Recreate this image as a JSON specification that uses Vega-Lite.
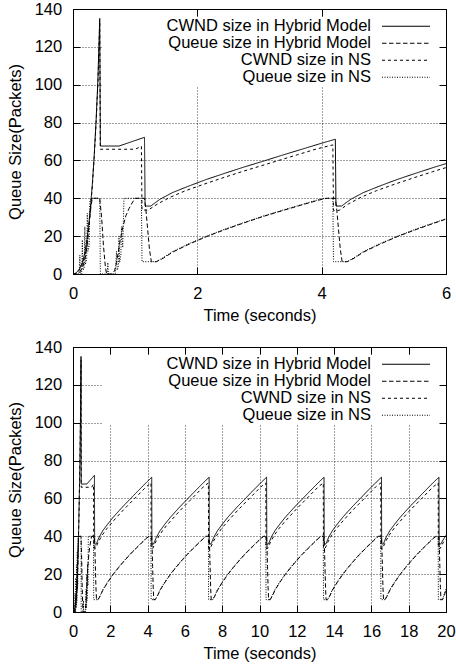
{
"$schema": "https://vega.github.io/schema/vega-lite/v6.json",
"padding": {"left": 7, "top": 1, "right": 0, "bottom": 0},
"spacing": 15,
"datasets": {"q": [
{"s":"a","t":0,"v":0},{"s":"a","t":0.05,"v":0.5},{"s":"a","t":0.1,"v":2.5},{"s":"a","t":0.15,"v":6},{"s":"a","t":0.19,"v":11},{"s":"a","t":0.22,"v":17},{"s":"a","t":0.25,"v":25},{"s":"a","t":0.28,"v":35},{"s":"a","t":0.31,"v":47},{"s":"a","t":0.34,"v":62},{"s":"a","t":0.37,"v":80},{"s":"a","t":0.4,"v":102},{"s":"a","t":0.43,"v":135},{"s":"a","t":0.44,"v":67.6},{"s":"a","t":0.74,"v":67.6},{"s":"a","t":1.15,"v":72.2},{"s":"a","t":1.16,"v":35.9},
{"s":"a","t":1.25,"v":35.9},{"s":"a","t":1.4,"v":39.5},{"s":"a","t":1.6,"v":43},{"s":"a","t":1.85,"v":46.3},{"s":"a","t":2.15,"v":50},{"s":"a","t":2.45,"v":53.3},{"s":"a","t":2.75,"v":56.5},{"s":"a","t":3.05,"v":59.5},{"s":"a","t":3.35,"v":62.6},{"s":"a","t":3.65,"v":65.6},{"s":"a","t":3.95,"v":68.6},{"s":"a","t":4.22,"v":71.2},{"s":"a","t":4.23,"v":35.9},
{"s":"a","t":4.32,"v":35.9},{"s":"a","t":4.47,"v":39.5},{"s":"a","t":4.67,"v":43},{"s":"a","t":4.92,"v":46.3},{"s":"a","t":5.22,"v":50},{"s":"a","t":5.52,"v":53.3},{"s":"a","t":5.82,"v":56.5},{"s":"a","t":6.12,"v":59.5},{"s":"a","t":6.42,"v":62.6},{"s":"a","t":6.72,"v":65.6},{"s":"a","t":7.02,"v":68.6},{"s":"a","t":7.3,"v":71.2},{"s":"a","t":7.31,"v":35.9},
{"s":"a","t":7.4,"v":35.9},{"s":"a","t":7.55,"v":39.5},{"s":"a","t":7.75,"v":43},{"s":"a","t":8.0,"v":46.3},{"s":"a","t":8.3,"v":50},{"s":"a","t":8.6,"v":53.3},{"s":"a","t":8.9,"v":56.5},{"s":"a","t":9.2,"v":59.5},{"s":"a","t":9.5,"v":62.6},{"s":"a","t":9.8,"v":65.6},{"s":"a","t":10.1,"v":68.6},{"s":"a","t":10.38,"v":71.2},{"s":"a","t":10.39,"v":35.9},
{"s":"a","t":10.48,"v":35.9},{"s":"a","t":10.63,"v":39.5},{"s":"a","t":10.83,"v":43},{"s":"a","t":11.08,"v":46.3},{"s":"a","t":11.38,"v":50},{"s":"a","t":11.68,"v":53.3},{"s":"a","t":11.98,"v":56.5},{"s":"a","t":12.28,"v":59.5},{"s":"a","t":12.58,"v":62.6},{"s":"a","t":12.88,"v":65.6},{"s":"a","t":13.18,"v":68.6},{"s":"a","t":13.46,"v":71.2},{"s":"a","t":13.47,"v":35.9},
{"s":"a","t":13.56,"v":35.9},{"s":"a","t":13.71,"v":39.5},{"s":"a","t":13.91,"v":43},{"s":"a","t":14.16,"v":46.3},{"s":"a","t":14.46,"v":50},{"s":"a","t":14.76,"v":53.3},{"s":"a","t":15.06,"v":56.5},{"s":"a","t":15.36,"v":59.5},{"s":"a","t":15.66,"v":62.6},{"s":"a","t":15.96,"v":65.6},{"s":"a","t":16.26,"v":68.6},{"s":"a","t":16.54,"v":71.2},{"s":"a","t":16.55,"v":35.9},
{"s":"a","t":16.64,"v":35.9},{"s":"a","t":16.79,"v":39.5},{"s":"a","t":16.99,"v":43},{"s":"a","t":17.24,"v":46.3},{"s":"a","t":17.54,"v":50},{"s":"a","t":17.84,"v":53.3},{"s":"a","t":18.14,"v":56.5},{"s":"a","t":18.44,"v":59.5},{"s":"a","t":18.74,"v":62.6},{"s":"a","t":19.04,"v":65.6},{"s":"a","t":19.34,"v":68.6},{"s":"a","t":19.62,"v":71.2},{"s":"a","t":19.63,"v":35.9},
{"s":"a","t":19.72,"v":35.9},{"s":"a","t":19.87,"v":38.5},{"s":"a","t":20,"v":40.5},
{"s":"b","t":0,"v":0},{"s":"b","t":0.08,"v":0},{"s":"b","t":0.12,"v":1.5},{"s":"b","t":0.16,"v":4},{"s":"b","t":0.2,"v":9},{"s":"b","t":0.23,"v":16},{"s":"b","t":0.26,"v":26},{"s":"b","t":0.29,"v":36},{"s":"b","t":0.31,"v":40},{"s":"b","t":0.43,"v":40},{"s":"b","t":0.46,"v":30},{"s":"b","t":0.49,"v":15},{"s":"b","t":0.52,"v":4},{"s":"b","t":0.54,"v":0},{"s":"b","t":0.64,"v":0},{"s":"b","t":0.67,"v":2},{"s":"b","t":0.7,"v":6},{"s":"b","t":0.73,"v":12},{"s":"b","t":0.76,"v":18},{"s":"b","t":0.8,"v":24.6},{"s":"b","t":0.85,"v":30.7},{"s":"b","t":0.9,"v":34.5},{"s":"b","t":0.95,"v":37.5},{"s":"b","t":1.0,"v":40},{"s":"b","t":1.15,"v":40},{"s":"b","t":1.17,"v":35},{"s":"b","t":1.2,"v":24},{"s":"b","t":1.23,"v":13},{"s":"b","t":1.26,"v":6.5},
{"s":"b","t":1.34,"v":6.5},{"s":"b","t":1.45,"v":8.3},{"s":"b","t":1.6,"v":11.5},{"s":"b","t":1.85,"v":15.5},{"s":"b","t":2.15,"v":19.8},{"s":"b","t":2.45,"v":23.5},{"s":"b","t":2.75,"v":27},{"s":"b","t":3.05,"v":30.3},{"s":"b","t":3.35,"v":33.3},{"s":"b","t":3.65,"v":36.2},{"s":"b","t":3.95,"v":39},{"s":"b","t":4.08,"v":40},{"s":"b","t":4.22,"v":40},{"s":"b","t":4.24,"v":35},{"s":"b","t":4.27,"v":24},{"s":"b","t":4.3,"v":13},{"s":"b","t":4.33,"v":6.5},
{"s":"b","t":4.41,"v":6.5},{"s":"b","t":4.52,"v":8.3},{"s":"b","t":4.67,"v":11.5},{"s":"b","t":4.92,"v":15.5},{"s":"b","t":5.22,"v":19.8},{"s":"b","t":5.52,"v":23.5},{"s":"b","t":5.82,"v":27},{"s":"b","t":6.12,"v":30.3},{"s":"b","t":6.42,"v":33.3},{"s":"b","t":6.72,"v":36.2},{"s":"b","t":7.02,"v":39},{"s":"b","t":7.15,"v":40},{"s":"b","t":7.3,"v":40},{"s":"b","t":7.32,"v":35},{"s":"b","t":7.35,"v":24},{"s":"b","t":7.38,"v":13},{"s":"b","t":7.41,"v":6.5},
{"s":"b","t":7.49,"v":6.5},{"s":"b","t":7.6,"v":8.3},{"s":"b","t":7.75,"v":11.5},{"s":"b","t":8.0,"v":15.5},{"s":"b","t":8.3,"v":19.8},{"s":"b","t":8.6,"v":23.5},{"s":"b","t":8.9,"v":27},{"s":"b","t":9.2,"v":30.3},{"s":"b","t":9.5,"v":33.3},{"s":"b","t":9.8,"v":36.2},{"s":"b","t":10.1,"v":39},{"s":"b","t":10.23,"v":40},{"s":"b","t":10.38,"v":40},{"s":"b","t":10.4,"v":35},{"s":"b","t":10.43,"v":24},{"s":"b","t":10.46,"v":13},{"s":"b","t":10.49,"v":6.5},
{"s":"b","t":10.57,"v":6.5},{"s":"b","t":10.68,"v":8.3},{"s":"b","t":10.83,"v":11.5},{"s":"b","t":11.08,"v":15.5},{"s":"b","t":11.38,"v":19.8},{"s":"b","t":11.68,"v":23.5},{"s":"b","t":11.98,"v":27},{"s":"b","t":12.28,"v":30.3},{"s":"b","t":12.58,"v":33.3},{"s":"b","t":12.88,"v":36.2},{"s":"b","t":13.18,"v":39},{"s":"b","t":13.31,"v":40},{"s":"b","t":13.46,"v":40},{"s":"b","t":13.48,"v":35},{"s":"b","t":13.51,"v":24},{"s":"b","t":13.54,"v":13},{"s":"b","t":13.57,"v":6.5},
{"s":"b","t":13.65,"v":6.5},{"s":"b","t":13.76,"v":8.3},{"s":"b","t":13.91,"v":11.5},{"s":"b","t":14.16,"v":15.5},{"s":"b","t":14.46,"v":19.8},{"s":"b","t":14.76,"v":23.5},{"s":"b","t":15.06,"v":27},{"s":"b","t":15.36,"v":30.3},{"s":"b","t":15.66,"v":33.3},{"s":"b","t":15.96,"v":36.2},{"s":"b","t":16.26,"v":39},{"s":"b","t":16.39,"v":40},{"s":"b","t":16.54,"v":40},{"s":"b","t":16.56,"v":35},{"s":"b","t":16.59,"v":24},{"s":"b","t":16.62,"v":13},{"s":"b","t":16.65,"v":6.5},
{"s":"b","t":16.73,"v":6.5},{"s":"b","t":16.84,"v":8.3},{"s":"b","t":16.99,"v":11.5},{"s":"b","t":17.24,"v":15.5},{"s":"b","t":17.54,"v":19.8},{"s":"b","t":17.84,"v":23.5},{"s":"b","t":18.14,"v":27},{"s":"b","t":18.44,"v":30.3},{"s":"b","t":18.74,"v":33.3},{"s":"b","t":19.04,"v":36.2},{"s":"b","t":19.34,"v":39},{"s":"b","t":19.47,"v":40},{"s":"b","t":19.62,"v":40},{"s":"b","t":19.64,"v":35},{"s":"b","t":19.67,"v":24},{"s":"b","t":19.7,"v":13},{"s":"b","t":19.73,"v":6.5},
{"s":"b","t":19.81,"v":6.5},{"s":"b","t":19.92,"v":9},{"s":"b","t":20,"v":12},
{"s":"c","t":0,"v":0},{"s":"c","t":0.05,"v":0.4},{"s":"c","t":0.1,"v":2},{"s":"c","t":0.15,"v":5},{"s":"c","t":0.19,"v":10},{"s":"c","t":0.22,"v":16},{"s":"c","t":0.25,"v":24},{"s":"c","t":0.28,"v":34},{"s":"c","t":0.31,"v":46},{"s":"c","t":0.34,"v":61},{"s":"c","t":0.37,"v":79},{"s":"c","t":0.4,"v":100},{"s":"c","t":0.43,"v":133},{"s":"c","t":0.44,"v":65.9},{"s":"c","t":1.0,"v":65.9},{"s":"c","t":1.1,"v":67.5},{"s":"c","t":1.11,"v":33.8},
{"s":"c","t":1.21,"v":33.8},{"s":"c","t":1.36,"v":37},{"s":"c","t":1.56,"v":40.5},{"s":"c","t":1.81,"v":44},{"s":"c","t":2.11,"v":47.5},{"s":"c","t":2.41,"v":50.8},{"s":"c","t":2.71,"v":54},{"s":"c","t":3.01,"v":57},{"s":"c","t":3.31,"v":60},{"s":"c","t":3.61,"v":63},{"s":"c","t":3.91,"v":66},{"s":"c","t":4.18,"v":68.2},{"s":"c","t":4.19,"v":33.6},
{"s":"c","t":4.28,"v":33.6},{"s":"c","t":4.43,"v":37},{"s":"c","t":4.63,"v":40.5},{"s":"c","t":4.88,"v":44},{"s":"c","t":5.18,"v":47.5},{"s":"c","t":5.48,"v":50.8},{"s":"c","t":5.78,"v":54},{"s":"c","t":6.08,"v":57},{"s":"c","t":6.38,"v":60},{"s":"c","t":6.68,"v":63},{"s":"c","t":6.98,"v":66},{"s":"c","t":7.26,"v":68.2},{"s":"c","t":7.27,"v":33.6},
{"s":"c","t":7.36,"v":33.6},{"s":"c","t":7.51,"v":37},{"s":"c","t":7.71,"v":40.5},{"s":"c","t":7.96,"v":44},{"s":"c","t":8.26,"v":47.5},{"s":"c","t":8.56,"v":50.8},{"s":"c","t":8.86,"v":54},{"s":"c","t":9.16,"v":57},{"s":"c","t":9.46,"v":60},{"s":"c","t":9.76,"v":63},{"s":"c","t":10.06,"v":66},{"s":"c","t":10.34,"v":68.2},{"s":"c","t":10.35,"v":33.6},
{"s":"c","t":10.44,"v":33.6},{"s":"c","t":10.59,"v":37},{"s":"c","t":10.79,"v":40.5},{"s":"c","t":11.04,"v":44},{"s":"c","t":11.34,"v":47.5},{"s":"c","t":11.64,"v":50.8},{"s":"c","t":11.94,"v":54},{"s":"c","t":12.24,"v":57},{"s":"c","t":12.54,"v":60},{"s":"c","t":12.84,"v":63},{"s":"c","t":13.14,"v":66},{"s":"c","t":13.42,"v":68.2},{"s":"c","t":13.43,"v":33.6},
{"s":"c","t":13.52,"v":33.6},{"s":"c","t":13.67,"v":37},{"s":"c","t":13.87,"v":40.5},{"s":"c","t":14.12,"v":44},{"s":"c","t":14.42,"v":47.5},{"s":"c","t":14.72,"v":50.8},{"s":"c","t":15.02,"v":54},{"s":"c","t":15.32,"v":57},{"s":"c","t":15.62,"v":60},{"s":"c","t":15.92,"v":63},{"s":"c","t":16.22,"v":66},{"s":"c","t":16.5,"v":68.2},{"s":"c","t":16.51,"v":33.6},
{"s":"c","t":16.6,"v":33.6},{"s":"c","t":16.75,"v":37},{"s":"c","t":16.95,"v":40.5},{"s":"c","t":17.2,"v":44},{"s":"c","t":17.5,"v":47.5},{"s":"c","t":17.8,"v":50.8},{"s":"c","t":18.1,"v":54},{"s":"c","t":18.4,"v":57},{"s":"c","t":18.7,"v":60},{"s":"c","t":19.0,"v":63},{"s":"c","t":19.3,"v":66},{"s":"c","t":19.58,"v":68.2},{"s":"c","t":19.59,"v":33.6},
{"s":"c","t":19.69,"v":33.6},{"s":"c","t":19.84,"v":36.5},{"s":"c","t":20,"v":38.5},
{"s":"d","t":0,"v":0},{"s":"d","t":0.1,"v":0},{"s":"d","t":0.11,"v":10},{"s":"d","t":0.12,"v":0},{"s":"d","t":0.14,"v":0},{"s":"d","t":0.15,"v":18},{"s":"d","t":0.16,"v":2},{"s":"d","t":0.18,"v":3},{"s":"d","t":0.19,"v":25},{"s":"d","t":0.2,"v":5},{"s":"d","t":0.22,"v":8},{"s":"d","t":0.23,"v":32},{"s":"d","t":0.24,"v":12},{"s":"d","t":0.26,"v":15},{"s":"d","t":0.27,"v":38},{"s":"d","t":0.29,"v":40},{"s":"d","t":0.43,"v":40},{"s":"d","t":0.44,"v":0},{"s":"d","t":0.55,"v":0},{"s":"d","t":0.56,"v":6},{"s":"d","t":0.57,"v":0},{"s":"d","t":0.68,"v":0},{"s":"d","t":0.7,"v":12},{"s":"d","t":0.71,"v":2},{"s":"d","t":0.73,"v":4},{"s":"d","t":0.74,"v":20},{"s":"d","t":0.75,"v":6},{"s":"d","t":0.77,"v":10},{"s":"d","t":0.78,"v":25},{"s":"d","t":0.8,"v":14},{"s":"d","t":0.82,"v":40},{"s":"d","t":1.1,"v":40},{"s":"d","t":1.11,"v":6.5},{"s":"d","t":1.34,"v":6.5},
{"s":"d","t":1.45,"v":8.6},{"s":"d","t":1.6,"v":11.8},{"s":"d","t":1.85,"v":15.8},{"s":"d","t":2.15,"v":20},{"s":"d","t":2.45,"v":23.8},{"s":"d","t":2.75,"v":27.2},{"s":"d","t":3.05,"v":30.5},{"s":"d","t":3.35,"v":33.5},{"s":"d","t":3.65,"v":36.4},{"s":"d","t":3.95,"v":39.3},{"s":"d","t":4.05,"v":40},{"s":"d","t":4.18,"v":40},{"s":"d","t":4.19,"v":6.5},{"s":"d","t":4.41,"v":6.5},
{"s":"d","t":4.52,"v":8.6},{"s":"d","t":4.67,"v":11.8},{"s":"d","t":4.92,"v":15.8},{"s":"d","t":5.22,"v":20},{"s":"d","t":5.52,"v":23.8},{"s":"d","t":5.82,"v":27.2},{"s":"d","t":6.12,"v":30.5},{"s":"d","t":6.42,"v":33.5},{"s":"d","t":6.72,"v":36.4},{"s":"d","t":7.02,"v":39.3},{"s":"d","t":7.12,"v":40},{"s":"d","t":7.26,"v":40},{"s":"d","t":7.27,"v":6.5},{"s":"d","t":7.49,"v":6.5},
{"s":"d","t":7.6,"v":8.6},{"s":"d","t":7.75,"v":11.8},{"s":"d","t":8.0,"v":15.8},{"s":"d","t":8.3,"v":20},{"s":"d","t":8.6,"v":23.8},{"s":"d","t":8.9,"v":27.2},{"s":"d","t":9.2,"v":30.5},{"s":"d","t":9.5,"v":33.5},{"s":"d","t":9.8,"v":36.4},{"s":"d","t":10.1,"v":39.3},{"s":"d","t":10.2,"v":40},{"s":"d","t":10.34,"v":40},{"s":"d","t":10.35,"v":6.5},{"s":"d","t":10.57,"v":6.5},
{"s":"d","t":10.68,"v":8.6},{"s":"d","t":10.83,"v":11.8},{"s":"d","t":11.08,"v":15.8},{"s":"d","t":11.38,"v":20},{"s":"d","t":11.68,"v":23.8},{"s":"d","t":11.98,"v":27.2},{"s":"d","t":12.28,"v":30.5},{"s":"d","t":12.58,"v":33.5},{"s":"d","t":12.88,"v":36.4},{"s":"d","t":13.18,"v":39.3},{"s":"d","t":13.28,"v":40},{"s":"d","t":13.42,"v":40},{"s":"d","t":13.43,"v":6.5},{"s":"d","t":13.65,"v":6.5},
{"s":"d","t":13.76,"v":8.6},{"s":"d","t":13.91,"v":11.8},{"s":"d","t":14.16,"v":15.8},{"s":"d","t":14.46,"v":20},{"s":"d","t":14.76,"v":23.8},{"s":"d","t":15.06,"v":27.2},{"s":"d","t":15.36,"v":30.5},{"s":"d","t":15.66,"v":33.5},{"s":"d","t":15.96,"v":36.4},{"s":"d","t":16.26,"v":39.3},{"s":"d","t":16.36,"v":40},{"s":"d","t":16.5,"v":40},{"s":"d","t":16.51,"v":6.5},{"s":"d","t":16.73,"v":6.5},
{"s":"d","t":16.84,"v":8.6},{"s":"d","t":16.99,"v":11.8},{"s":"d","t":17.24,"v":15.8},{"s":"d","t":17.54,"v":20},{"s":"d","t":17.84,"v":23.8},{"s":"d","t":18.14,"v":27.2},{"s":"d","t":18.44,"v":30.5},{"s":"d","t":18.74,"v":33.5},{"s":"d","t":19.04,"v":36.4},{"s":"d","t":19.34,"v":39.3},{"s":"d","t":19.44,"v":40},{"s":"d","t":19.58,"v":40},{"s":"d","t":19.59,"v":6.5},{"s":"d","t":19.81,"v":6.5},{"s":"d","t":20,"v":12.3}
]},
"resolve": {"scale": {"strokeDash": "independent"}, "legend": {"strokeDash": "independent"}},
"config": {
  "font": "Liberation Sans",
  "view": {"stroke": null},
  "axis": {"labelFont": "Liberation Sans", "labelFontSize": 16.5, "labelColor": "#000", "titleFont": "Liberation Sans", "titleFontSize": 16.5, "titleFontWeight": "normal", "titleColor": "#000", "domainColor": "#000", "domainWidth": 1, "tickColor": "#000", "tickSize": -7, "tickWidth": 1, "gridColor": "#000", "gridDash": [1, 2], "gridOpacity": 0.75, "gridWidth": 1, "labelFlush": false, "labelOverlap": false},
  "axisX": {"labelPadding": 18.5, "titlePadding": 5},
  "axisY": {"labelPadding": 18.3, "titlePadding": 11},
  "legend": {"orient": "none", "legendX": 30, "legendY": 9, "direction": "vertical", "fillColor": "white", "padding": 0, "symbolType": "M -4.8 0 L 4.8 0 M 8.4 0", "symbolSize": 100, "symbolOffset": 294.75, "symbolStrokeWidth": 1, "symbolStrokeColor": "black", "labelAlign": "right", "labelOffset": -43.25, "labelFont": "Liberation Sans", "labelFontSize": 16.5, "labelColor": "black", "labelLimit": 0, "rowPadding": 0}
},
"vconcat": [
{
  "width": 373, "height": 265,
  "resolve": {"axis": {"x": "independent", "y": "independent"}},
  "layer": [
    {"data": {"name": "q"},
     "mark": {"type": "line", "color": "black", "strokeWidth": 1, "clip": true},
     "encoding": {
       "x": {"field": "t", "type": "quantitative", "scale": {"domain": [0, 6], "nice": false, "zero": false}, "axis": {"orient": "bottom", "values": [0, 2, 4, 6], "title": "Time (seconds)", "grid": true}},
       "y": {"field": "v", "type": "quantitative", "scale": {"domain": [0, 140], "nice": false}, "axis": {"orient": "left", "values": [0, 20, 40, 60, 80, 100, 120, 140], "title": "Queue Size(Packets)", "grid": true}},
       "strokeDash": {"field": "s", "type": "nominal", "scale": {"domain": ["a", "b", "c", "d"], "range": [[1, 0], [4.5, 2.5], [3, 3], [1, 1.5]]},
         "legend": {"title": null, "symbolType": "M -4.8 0 L 4.8 0 M 8.4 0",
           "labelExpr": "datum.label == 'a' ? 'CWND size in Hybrid Model' : datum.label == 'b' ? 'Queue size in Hybrid Model' : datum.label == 'c' ? 'CWND size in NS' : 'Queue size in NS'"}}
     }},
    {"data": {"values": [{}]},
     "mark": {"type": "point", "opacity": 0},
     "encoding": {
       "x": {"datum": 0, "type": "quantitative", "scale": {"domain": [0, 6], "nice": false, "zero": false}, "axis": {"orient": "top", "values": [0, 2, 4, 6], "labels": false, "title": null, "grid": false, "zindex": 1}},
       "y": {"datum": 0, "type": "quantitative", "scale": {"domain": [0, 140], "nice": false}, "axis": {"orient": "right", "values": [0, 20, 40, 60, 80, 100, 120, 140], "labels": false, "title": null, "grid": false, "zindex": 1}}
     }}
  ]
},
{
  "width": 373, "height": 265,
  "resolve": {"axis": {"x": "independent", "y": "independent"}},
  "layer": [
    {"data": {"name": "q"},
     "mark": {"type": "line", "color": "black", "strokeWidth": 1, "clip": true},
     "encoding": {
       "x": {"field": "t", "type": "quantitative", "scale": {"domain": [0, 20], "nice": false, "zero": false}, "axis": {"orient": "bottom", "values": [0, 2, 4, 6, 8, 10, 12, 14, 16, 18, 20], "title": "Time (seconds)", "grid": true}},
       "y": {"field": "v", "type": "quantitative", "scale": {"domain": [0, 140], "nice": false}, "axis": {"orient": "left", "values": [0, 20, 40, 60, 80, 100, 120, 140], "title": "Queue Size(Packets)", "grid": true}},
       "strokeDash": {"field": "s", "type": "nominal", "scale": {"domain": ["a", "b", "c", "d"], "range": [[1, 0], [4.5, 2.5], [3, 3], [1, 1.5]]},
         "legend": {"title": null, "symbolType": "M -4.8 0 L 4.8 0 M 8.4 0",
           "labelExpr": "datum.label == 'a' ? 'CWND size in Hybrid Model' : datum.label == 'b' ? 'Queue size in Hybrid Model' : datum.label == 'c' ? 'CWND size in NS' : 'Queue size in NS'"}}
     }},
    {"data": {"values": [{}]},
     "mark": {"type": "point", "opacity": 0},
     "encoding": {
       "x": {"datum": 0, "type": "quantitative", "scale": {"domain": [0, 20], "nice": false, "zero": false}, "axis": {"orient": "top", "values": [0, 2, 4, 6, 8, 10, 12, 14, 16, 18, 20], "labels": false, "title": null, "grid": false, "zindex": 1}},
       "y": {"datum": 0, "type": "quantitative", "scale": {"domain": [0, 140], "nice": false}, "axis": {"orient": "right", "values": [0, 20, 40, 60, 80, 100, 120, 140], "labels": false, "title": null, "grid": false, "zindex": 1}}
     }}
  ]
}
]
}
